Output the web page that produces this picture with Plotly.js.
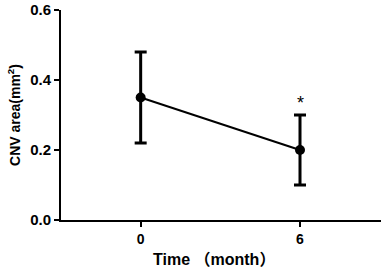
<!DOCTYPE html>
<html><head><meta charset="utf-8">
<script src="https://cdn.plot.ly/plotly-3.0.1.min.js"></script>
<style>html,body{margin:0;padding:0;background:#fff;}</style>
</head><body><div id="chart" style="width:383px;height:270px;"></div>
<script>
const months = [0, 6];
const meanArea = [0.35, 0.20];
const errUpper = [0.13, 0.10];
const errLower = [0.13, 0.10];
const yTicks = [0.0, 0.2, 0.4, 0.6];
const yTickText = ['0.0', '0.2', '0.4', '0.6'];
const sigLabel = '*';
const xTitle = 'Time （month）';
const yTitle = 'CNV area(mm<sup>2</sup>)';

const font = 'Liberation Sans, Arial, Noto Sans CJK SC, sans-serif';
const trace = {
  x: months, y: meanArea, type: 'scatter', mode: 'lines+markers',
  line: {color: '#000', width: 2},
  marker: {color: '#000', size: 10},
  error_y: {type: 'data', symmetric: false, array: errUpper, arrayminus: errLower,
            color: '#000', thickness: 3, width: 6},
  showlegend: false, hoverinfo: 'skip'
};
const layout = {
  width: 383, height: 270,
  margin: {l: 61, r: 2, t: 10, b: 50},
  paper_bgcolor: '#fff', plot_bgcolor: '#fff',
  font: {family: font, color: '#000'},
  xaxis: {
    range: [-3, 9.05], tickvals: months, ticktext: months.map(String),
    ticks: 'outside', ticklen: 5, tickwidth: 2, tickcolor: '#000',
    showline: true, linewidth: 2, linecolor: '#000', showgrid: false, zeroline: false,
    tickfont: {family: font, size: 14, weight: 'bold'}
  },
  yaxis: {
    range: [0, 0.6], tickvals: yTicks, ticktext: yTickText,
    ticks: 'outside', ticklen: 5, tickwidth: 2, tickcolor: '#000',
    showline: true, linewidth: 2, linecolor: '#000', showgrid: false, zeroline: false,
    tickfont: {family: font, size: 15, weight: 'bold'},
    title: {text: yTitle, font: {family: font, size: 14, weight: 'bold'}, standoff: 6}
  },
  annotations: [{
    x: months[1], y: meanArea[1] + errUpper[1], xref: 'x', yref: 'y',
    text: sigLabel, showarrow: false, yanchor: 'bottom', yshift: 0,
    font: {family: font, size: 18, color: '#000'}
  }, {
    x: 0.478, y: -0.186, xref: 'paper', yref: 'paper', xanchor: 'center', yanchor: 'middle',
    text: xTitle, showarrow: false,
    font: {family: font, size: 16, weight: 'bold', color: '#000'}
  }]
};
Plotly.newPlot('chart', [trace], layout, {displayModeBar: false, staticPlot: true});
</script></body></html>
